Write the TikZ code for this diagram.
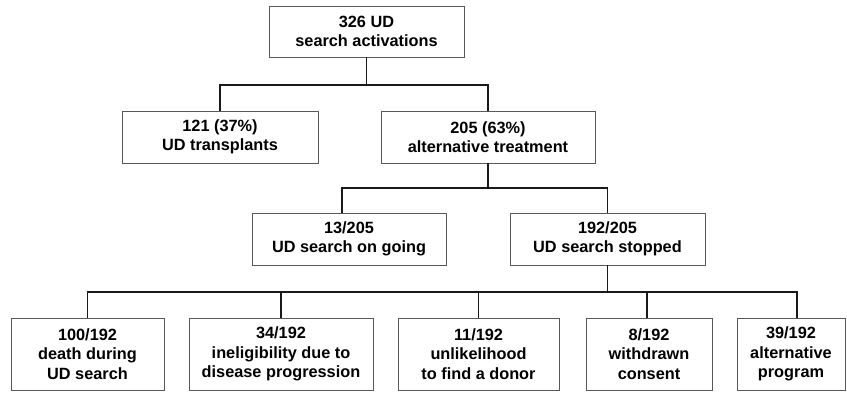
\documentclass[tikz,border=0pt]{standalone}
\usepackage{fontspec}
\setmainfont{Liberation Sans}
\usetikzlibrary{positioning}
\tikzset{
	edge/.style={line width=1.7pt, draw=black!90},
	flow box/.style={
		rectangle,
		draw=black!65,
		line width=0.8pt,
		align=center,
		font=\fontsize{16.3}{19.3}\selectfont\bfseries,
		inner sep=0pt,
		outer sep=0pt
	}
}
\newcommand{\countbox}[4]{% node name, centre x, width, text
	\node[flow box, minimum width=#3pt, minimum height=72pt] (#1) at (#2,354) {#4}
}

\begin{document}
\begin{tikzpicture}[x=1pt, y=-1pt]
	\useasboundingbox (0,0) rectangle (847,392);

	\node[flow box, minimum width=195pt, minimum height=51pt] (n326) at (366.5,31.5) {326 UD\\search activations};

	\node[flow box, minimum width=196pt, minimum height=52pt] (n121) at (220,137) {121 (37\%)\\UD transplants};
	\node[flow box, minimum width=214pt, minimum height=52pt] (n205) at (488,137) {205 (63\%)\\alternative treatment};
	\coordinate (bus1) at (n326.south |- 0,85);
	\draw[edge] (n326.south) -- (bus1);
	\draw[edge] (bus1) -| (n121.north);
	\draw[edge] (bus1) -| (n205.north);

	\node[flow box, minimum width=194pt, minimum height=52pt] (n13) at (349,239) {13/205\\UD search on going};
	\node[flow box, minimum width=195pt, minimum height=52pt] (n192) at (607.5,239) {192/205\\UD search stopped};
	\coordinate (bus2) at (n205.south |- 0,188);
	\draw[edge] (n205.south) -- (bus2);
	\draw[edge] (bus2) -| ([xshift=-7pt]n13.north);
	\draw[edge] (bus2) -| (n192.north);

	\countbox{n100}{87.5}{153}{100/192\\death during\\UD search};
	\countbox{n34}{281}{184}{34/192\\ineligibility due to\\disease progression};
	\countbox{n11}{478.5}{161}{11/192\\unlikelihood\\to find a donor};
	\countbox{n8}{649}{126}{8/192\\withdrawn\\consent};
	\countbox{n39}{791}{108}{39/192\\alternative\\program};
	\coordinate (bus3) at (n192.south |- 0,292);
	\draw[edge] (n192.south) -- (bus3);
	\draw[edge] (bus3) -| (n100.north);
	\draw[edge] (bus3) -| (n34.north);
	\draw[edge] (bus3) -| (n11.north);
	\draw[edge] (bus3) -| ([xshift=-2pt]n8.north);
	\draw[edge] (bus3) -| ([xshift=6pt]n39.north);
\end{tikzpicture}
\end{document}
